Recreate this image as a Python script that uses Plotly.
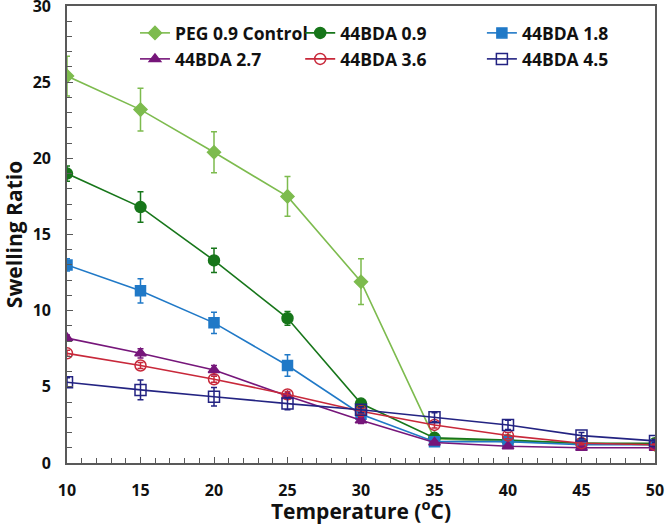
import plotly.graph_objects as go

temps = [10, 15, 20, 25, 30, 35, 40, 45, 50]

names = ["PEG 0.9 Control", "44BDA 0.9", "44BDA 1.8", "44BDA 2.7", "44BDA 3.6", "44BDA 4.5"]

peg_09 = [25.4, 23.2, 20.4, 17.5, 11.9, 1.6, 1.4, 1.3, 1.2]
peg_09_err = [1.3, 1.4, 1.35, 1.3, 1.5, 0.1, 0.1, 0.1, 0.1]

bda_09 = [19.0, 16.8, 13.3, 9.5, 3.9, 1.65, 1.5, 1.3, 1.3]
bda_09_err = [0.5, 1.0, 0.8, 0.45, 0.2, 0.1, 0.1, 0.1, 0.1]

bda_18 = [13.0, 11.3, 9.2, 6.4, 3.2, 1.4, 1.4, 1.2, 1.2]
bda_18_err = [0.4, 0.8, 0.7, 0.7, 0.2, 0.1, 0.1, 0.1, 0.1]

bda_27 = [8.2, 7.2, 6.1, 4.4, 2.8, 1.35, 1.1, 1.0, 1.0]
bda_27_err = [0.2, 0.3, 0.3, 0.2, 0.2, 0.1, 0.1, 0.1, 0.1]

bda_36 = [7.2, 6.4, 5.5, 4.5, 3.4, 2.5, 1.8, 1.3, 1.2]
bda_36_err = [0.2, 0.2, 0.2, 0.2, 0.2, 0.2, 0.2, 0.1, 0.1]

bda_45 = [5.3, 4.8, 4.35, 3.9, 3.5, 3.0, 2.5, 1.8, 1.45]
bda_45_err = [0.3, 0.65, 0.6, 0.4, 0.2, 0.3, 0.3, 0.2, 0.1]

series = [peg_09, bda_09, bda_18, bda_27, bda_36, bda_45]
errors = [peg_09_err, bda_09_err, bda_18_err, bda_27_err, bda_36_err, bda_45_err]

x_ticks = [10, 15, 20, 25, 30, 35, 40, 45, 50]
y_ticks = [0, 5, 10, 15, 20, 25, 30]

colors = ["#7DBB4E", "#17761A", "#2079C7", "#76167A", "#C8283A", "#232382"]
symbols = ["diamond", "circle", "square", "triangle-up", "circle-open", "square-open"]
sizes = [10, 11, 10, 10, 11, 11]

font_family = "Open Sans, Liberation Sans, sans-serif"
axis_col = "#595959"
text_col = "#111111"

# one legend per entry so the 3x2 grid can be placed exactly
legend_ids = ["legend", "legend2", "legend3", "legend4", "legend5", "legend6"]
legend_x = [0.1156, 0.3966, 0.7056, 0.1156, 0.3966, 0.7056]
legend_y = [0.9803, 0.9803, 0.9803, 0.9234, 0.9234, 0.9234]

fig = go.Figure()
for name, y, e, c, s, sz, lid in zip(names, series, errors, colors, symbols, sizes, legend_ids):
    fig.add_trace(go.Scatter(
        x=temps, y=y, name=name, mode="lines+markers", legend=lid,
        line=dict(color=c, width=1.6),
        marker=dict(symbol=s, size=sz, color=c, line=dict(color=c, width=1.5)),
        error_y=dict(type="data", array=e, visible=True, color=c, thickness=1.5, width=3),
    ))

legends = {}
for lid, lx, ly in zip(legend_ids, legend_x, legend_y):
    legends[lid] = dict(
        x=lx, y=ly, xanchor="left", yanchor="top", orientation="h",
        font=dict(size=17.5, family=font_family, color=text_col, weight="bold"),
        bgcolor="rgba(0,0,0,0)", itemwidth=30,
    )

fig.update_layout(
    width=666, height=525,
    margin=dict(l=67, r=11, t=6, b=62, autoexpand=False),
    paper_bgcolor="white", plot_bgcolor="white",
    font=dict(family=font_family, color=text_col),
    showlegend=True,
    xaxis=dict(
        range=[10, 50], tickvals=x_ticks, automargin=False,
        ticks="inside", ticklen=6, tickcolor=axis_col, tickwidth=1,
        minor=dict(dtick=1, ticks="inside", ticklen=5, tickcolor=axis_col),
        showline=True, linecolor=axis_col, linewidth=1.6, mirror=True,
        showgrid=False, zeroline=False,
        tickfont=dict(size=16, weight="bold", color=text_col),
        ticklabelstandoff=12, ticklabeloverflow="allow",
        title=dict(text="Temperature (<sup>o</sup>C)", font=dict(size=21, weight="bold", color=text_col), standoff=0),
    ),
    yaxis=dict(
        range=[0, 30], tickvals=y_ticks, automargin=False,
        ticks="inside", ticklen=6, tickcolor=axis_col, tickwidth=1,
        minor=dict(dtick=1, ticks="inside", ticklen=5, tickcolor=axis_col),
        showline=True, linecolor=axis_col, linewidth=1.6, mirror=True,
        showgrid=False, zeroline=False,
        tickfont=dict(size=16, weight="bold", color=text_col),
        ticklabelstandoff=11, ticklabeloverflow="allow",
        title=dict(text="Swelling Ratio", font=dict(size=21, weight="bold", color=text_col), standoff=18),
    ),
    **legends,
)

fig.write_html("out.html", config={"displayModeBar": False},
               post_script="document.body.style.margin='0';")
